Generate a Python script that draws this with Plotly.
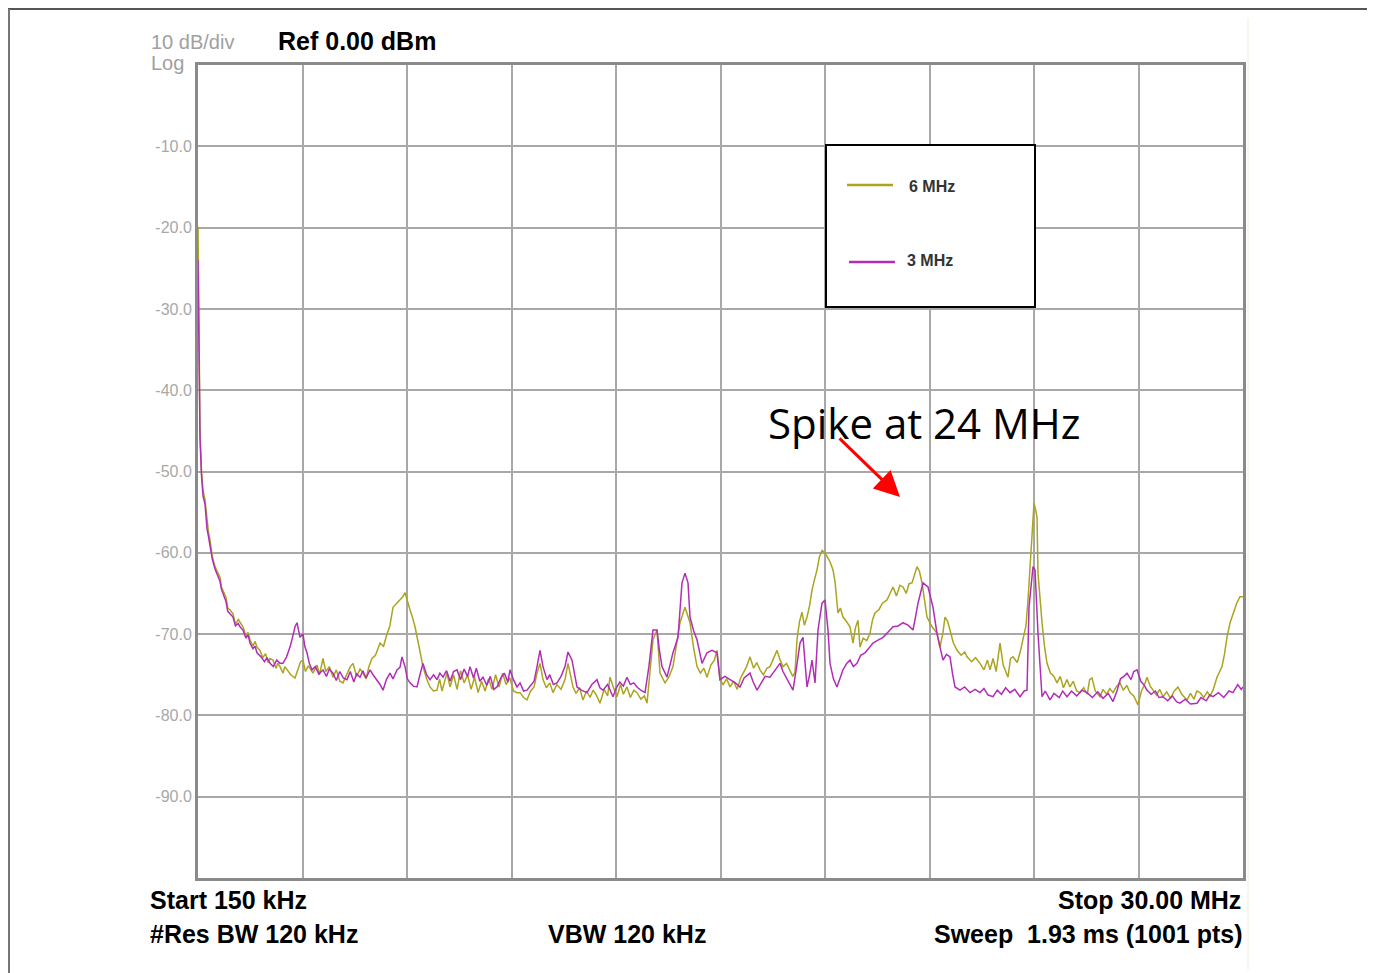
import plotly.graph_objects as go

# ---------------- data ----------------
freq_6mhz = [0.15, 0.18, 0.207, 0.25, 0.293, 0.35, 0.407, 0.45, 0.493, 0.56, 0.636, 0.70, 0.778, 0.82, 0.864,
             0.95, 1.0, 1.064, 1.15, 1.22, 1.3, 1.35, 1.435, 1.52, 1.58, 1.635, 1.72, 1.78, 1.835, 1.921,
             2.0, 2.08, 2.15, 2.207, 2.292, 2.38, 2.43, 2.492, 2.58, 2.63, 2.692, 2.8, 2.921, 3.0, 3.08,
             3.149, 3.22, 3.3, 3.435, 3.55, 3.62, 3.721, 3.8, 3.9, 4.006, 4.1, 4.2, 4.292, 4.4, 4.5, 4.578,
             4.68, 4.78, 4.863, 4.95, 5.03, 5.12, 5.22, 5.349, 5.45, 5.549, 5.63, 5.72, 5.82, 5.92, 6.0,
             6.063, 6.13, 6.206, 6.28, 6.349, 6.42, 6.491, 6.577, 6.68, 6.777, 6.877, 6.977, 7.05, 7.12,
             7.26, 7.35, 7.45, 7.55, 7.65, 7.75, 7.85, 7.95, 8.05, 8.15, 8.25, 8.35, 8.45, 8.55, 8.65, 8.75,
             8.85, 8.95, 9.06, 9.16, 9.262, 9.348, 9.45, 9.548, 9.65, 9.75, 9.834, 9.919, 10.005, 10.1,
             10.2, 10.29, 10.4, 10.52, 10.633, 10.719, 10.862, 10.95, 11.05, 11.147, 11.25, 11.35, 11.433,
             11.53, 11.633, 11.75, 11.85, 11.919, 12.02, 12.118, 12.22, 12.3, 12.404, 12.5, 12.6, 12.69,
             12.8, 12.9, 12.976, 13.06, 13.147, 13.261, 13.347, 13.49, 13.6, 13.718, 13.82, 13.918, 14.061,
             14.204, 14.3, 14.404, 14.5, 14.6, 14.69, 14.8, 14.9, 14.975, 15.061, 15.15, 15.25, 15.347,
             15.45, 15.55, 15.65, 15.718, 15.82, 15.918, 16.02, 16.11, 16.204, 16.3, 16.4, 16.489, 16.6,
             16.689, 16.78, 16.861, 16.96, 17.061, 17.14, 17.203, 17.26, 17.33, 17.403, 17.47, 17.546,
             17.62, 17.689, 17.76, 17.832, 17.9, 17.974, 18.06, 18.117, 18.203, 18.288, 18.345, 18.431,
             18.5, 18.574, 18.65, 18.774, 18.86, 18.93, 19.003, 19.06, 19.15, 19.25, 19.346, 19.42, 19.488,
             19.6, 19.7, 19.831, 19.92, 20.003, 20.1, 20.2, 20.288, 20.38, 20.46, 20.545, 20.688, 20.76,
             20.831, 20.9, 20.974, 21.117, 21.259, 21.345, 21.43, 21.488, 21.56, 21.631, 21.72, 21.831,
             21.95, 22.05, 22.117, 22.25, 22.36, 22.488, 22.6, 22.7, 22.774, 22.86, 22.95, 23.059, 23.15,
             23.288, 23.36, 23.43, 23.55, 23.63, 23.716, 23.8, 23.859, 23.92, 23.973, 24.03, 24.08, 24.116,
             24.144, 24.2, 24.259, 24.33, 24.402, 24.5, 24.6, 24.687, 24.78, 24.87, 24.97, 25.059, 25.15,
             25.25, 25.345, 25.45, 25.55, 25.62, 25.688, 25.78, 25.916, 26.0, 26.1, 26.2, 26.287, 26.39,
             26.487, 26.58, 26.68, 26.773, 26.88, 27.001, 27.1, 27.19, 27.258, 27.35, 27.429, 27.53, 27.62,
             27.715, 27.82, 27.93, 28.04, 28.143, 28.25, 28.4, 28.5, 28.6, 28.68, 28.772, 28.88, 28.98,
             29.06, 29.143, 29.257, 29.4, 29.47, 29.543, 29.63, 29.714, 29.82, 29.914, 30.0]
level_6mhz = [-19.9, -35.0, -44.9, -50.0, -52.3, -53.5, -56.0, -57.5, -58.4, -60.5, -61.7, -62.2, -63.0, -64.2,
              -64.6, -65.5, -66.8, -67.0, -67.5, -68.8, -68.2, -68.6, -69.1, -70.2, -69.8, -70.7, -71.5, -70.9,
              -71.6, -72.0, -72.9, -72.4, -73.5, -73.0, -73.2, -74.2, -73.6, -74.0, -74.8, -74.0, -74.4,
              -75.0, -75.4, -74.5, -73.4, -73.2, -74.6, -73.9, -74.8, -73.8, -75.0, -73.0, -74.6, -74.0,
              -75.3, -74.4, -75.8, -76.0, -75.0, -74.0, -73.6, -75.2, -74.3, -74.8, -75.5, -74.0, -73.0,
              -72.6, -71.1, -71.5, -70.0, -69.0, -66.7, -66.2, -65.8, -65.4, -64.9, -66.0, -67.0, -68.0,
              -69.1, -70.6, -72.0, -74.0, -75.5, -76.5, -77.0, -76.9, -75.5, -77.0, -74.8, -76.5, -75.0,
              -76.8, -74.5, -76.0, -75.0, -76.8, -75.3, -77.2, -75.8, -77.0, -75.5, -76.8, -75.0, -76.5,
              -74.8, -76.2, -75.4, -77.0, -77.2, -77.2, -77.8, -78.1, -77.0, -76.5, -74.8, -73.6, -75.6,
              -76.6, -76.0, -77.2, -76.2, -76.8, -75.6, -73.6, -76.5, -77.3, -76.6, -78.1, -77.0, -77.8,
              -76.9, -77.5, -78.5, -76.8, -77.6, -75.3, -76.6, -77.7, -76.2, -77.4, -76.5, -77.8, -76.9,
              -77.2, -78.0, -77.6, -78.5, -74.5, -70.7, -69.5, -74.8, -76.0, -75.3, -74.0, -71.0, -68.6,
              -66.7, -68.6, -71.5, -74.0, -74.8, -74.2, -75.3, -73.8, -73.2, -72.0, -75.6, -76.2, -75.5,
              -76.5, -75.8, -76.8, -75.4, -74.8, -74.0, -72.8, -74.2, -73.5, -74.4, -75.0, -74.2, -74.0,
              -73.0, -72.0, -73.2, -74.0, -73.6, -74.4, -75.2, -74.7, -70.7, -68.5, -67.3, -68.9, -67.9,
              -66.5, -64.6, -63.3, -62.1, -60.5, -59.7, -60.0, -60.5, -61.1, -62.1, -63.5, -67.4, -66.8,
              -67.9, -68.3, -69.1, -71.1, -69.2, -68.3, -71.6, -70.5, -70.8, -69.9, -68.2, -67.4, -67.0,
              -66.2, -65.8, -65.0, -64.2, -65.3, -64.0, -64.2, -65.0, -63.8, -63.7, -61.7, -62.3, -63.7,
              -65.5, -67.9, -69.1, -69.9, -71.6, -69.8, -67.9, -68.4, -69.5, -71.0, -72.0, -72.6, -72.2,
              -72.8, -73.4, -72.9, -73.6, -74.4, -73.2, -74.4, -73.0, -74.6, -71.1, -73.8, -75.3, -73.0,
              -72.8, -73.5, -72.3, -70.7, -69.0, -65.8, -61.5, -58.4, -53.9, -54.8, -55.6, -62.5, -66.0,
              -68.6, -71.5, -73.6, -74.8, -75.2, -76.0, -75.2, -76.6, -75.6, -76.5, -75.8, -77.0, -77.2,
              -76.6, -77.4, -75.6, -75.4, -77.0, -77.7, -76.8, -77.4, -76.7, -77.2, -76.4, -76.0, -76.9,
              -76.3, -77.2, -77.6, -78.7, -77.0, -76.2, -75.3, -76.4, -76.9, -77.5, -76.8, -77.7, -77.1,
              -77.9, -77.0, -76.5, -77.4, -78.1, -77.3, -78.0, -77.0, -77.2, -77.8, -77.1, -77.6, -76.9,
              -75.3, -74.0, -72.5, -70.4, -68.6, -67.4, -66.2, -65.4, -65.4]

freq_3mhz = [0.15, 0.18, 0.207, 0.25, 0.293, 0.35, 0.407, 0.45, 0.493, 0.56, 0.636, 0.7, 0.778, 0.82, 0.864,
             0.95, 1.0, 1.064, 1.15, 1.22, 1.3, 1.35, 1.435, 1.52, 1.58, 1.635, 1.72, 1.78, 1.835, 1.95,
             2.05, 2.12, 2.207, 2.3, 2.4, 2.492, 2.578, 2.68, 2.778, 2.85, 2.921, 2.978, 3.064, 3.149, 3.2,
             3.264, 3.33, 3.406, 3.5, 3.6, 3.721, 3.82, 3.9, 4.006, 4.1, 4.2, 4.3, 4.406, 4.5, 4.6, 4.68,
             4.777, 4.86, 4.95, 5.063, 5.15, 5.263, 5.35, 5.435, 5.53, 5.634, 5.72, 5.834, 5.92, 5.977,
             6.063, 6.13, 6.206, 6.3, 6.406, 6.49, 6.577, 6.68, 6.777, 6.88, 6.977, 7.06, 7.149, 7.25,
             7.35, 7.45, 7.548, 7.65, 7.75, 7.85, 7.92, 8.02, 8.1, 8.2, 8.291, 8.4, 8.5, 8.6, 8.691, 8.8,
             8.9, 9.0, 9.062, 9.16, 9.262, 9.35, 9.45, 9.548, 9.65, 9.75, 9.834, 9.919, 10.005, 10.119,
             10.2, 10.3, 10.405, 10.52, 10.633, 10.719, 10.833, 10.976, 11.1, 11.262, 11.4, 11.547, 11.63,
             11.719, 11.85, 12.004, 12.1, 12.2, 12.3, 12.404, 12.5, 12.6, 12.69, 12.8, 12.918, 13.03,
             13.147, 13.261, 13.33, 13.404, 13.547, 13.63, 13.718, 13.861, 13.92, 13.975, 14.061, 14.147,
             14.204, 14.3, 14.404, 14.547, 14.69, 14.832, 14.975, 15.061, 15.2, 15.347, 15.5, 15.632,
             15.75, 15.918, 16.0, 16.118, 16.25, 16.35, 16.489, 16.6, 16.775, 16.86, 16.975, 17.06, 17.146,
             17.25, 17.346, 17.432, 17.49, 17.546, 17.62, 17.689, 17.775, 17.86, 17.974, 18.06, 18.146,
             18.203, 18.3, 18.402, 18.5, 18.574, 18.68, 18.774, 18.87, 18.974, 19.08, 19.203, 19.3, 19.431,
             19.55, 19.717, 19.85, 20.003, 20.15, 20.288, 20.43, 20.574, 20.65, 20.717, 20.86, 21.002,
             21.145, 21.259, 21.345, 21.431, 21.53, 21.631, 21.7, 21.774, 21.917, 22.05, 22.202, 22.35,
             22.488, 22.6, 22.72, 22.859, 22.98, 23.1, 23.22, 23.345, 23.48, 23.63, 23.75, 23.83, 23.887,
             24.002, 24.059, 24.144, 24.259, 24.35, 24.487, 24.6, 24.75, 24.85, 24.973, 25.1, 25.25, 25.4,
             25.545, 25.7, 25.85, 26.0, 26.15, 26.287, 26.4, 26.5, 26.6, 26.687, 26.8, 26.88, 26.973, 27.08,
             27.18, 27.258, 27.38, 27.5, 27.6, 27.715, 27.85, 27.98, 28.1, 28.2, 28.35, 28.5, 28.686, 28.8,
             28.95, 29.05, 29.143, 29.3, 29.45, 29.6, 29.714, 29.85, 29.95, 30.0]
level_3mhz = [-24.0, -38.0, -46.0, -50.5, -53.0, -54.0, -57.0, -58.0, -59.0, -60.8, -62.0, -62.8, -63.5, -64.5,
              -65.0, -66.0, -67.2, -67.5, -67.9, -69.0, -68.7, -69.1, -69.5, -70.5, -70.1, -71.1, -71.8, -71.5,
              -72.3, -72.8, -73.4, -72.9, -73.6, -74.0, -73.2, -73.6, -73.6, -72.8, -71.6, -70.4, -69.1,
              -68.6, -70.4, -70.0, -71.5, -72.3, -73.6, -74.4, -74.0, -74.9, -74.4, -75.2, -74.3, -74.8,
              -75.7, -74.6, -75.4, -75.6, -74.6, -75.9, -74.9, -75.3, -74.5, -75.4, -74.4, -75.0, -75.6,
              -76.2, -76.9, -75.6, -74.8, -75.5, -74.4, -74.1, -72.8, -74.0, -75.5, -76.0, -76.4, -76.5,
              -75.0, -73.6, -75.0, -75.6, -75.0, -75.6, -74.8, -75.3, -74.5, -75.8, -74.6, -74.4, -75.6,
              -74.3, -75.2, -74.0, -75.4, -74.2, -75.8, -75.3, -76.3, -75.2, -76.8, -76.5, -75.4, -74.8,
              -75.9, -74.4, -75.6, -76.5, -76.0, -77.0, -76.9, -76.4, -75.8, -74.0, -72.0, -74.0, -75.6,
              -75.0, -76.2, -76.0, -75.2, -74.0, -72.2, -73.2, -76.5, -76.9, -77.2, -76.2, -75.6, -76.6,
              -76.9, -76.2, -77.7, -76.6, -75.9, -76.4, -75.3, -76.2, -76.0, -76.5, -76.9, -77.2, -74.0,
              -69.5, -69.5, -72.0, -74.0, -75.3, -73.8, -72.3, -70.4, -67.0, -63.7, -62.5, -63.7, -67.9,
              -69.5, -70.7, -73.6, -72.3, -72.0, -72.3, -75.6, -75.2, -75.6, -76.0, -76.5, -75.4, -74.8,
              -75.8, -76.9, -76.0, -75.2, -75.3, -74.6, -73.6, -74.6, -75.6, -76.3, -76.9, -74.0, -71.1,
              -70.4, -73.5, -76.5, -75.0, -73.2, -76.0, -69.5, -66.2, -65.8, -69.5, -73.6, -75.5, -76.5,
              -75.3, -74.4, -73.6, -73.2, -74.0, -73.6, -72.6, -72.3, -71.8, -71.1, -70.8, -70.4, -69.8,
              -69.1, -69.0, -68.6, -68.9, -69.5, -67.8, -66.2, -63.7, -64.2, -66.7, -69.9, -71.6, -73.2,
              -72.5, -72.8, -74.8, -76.5, -76.9, -76.5, -77.2, -76.8, -77.2, -76.7, -77.5, -77.7, -76.9,
              -77.4, -76.6, -77.2, -76.8, -77.7, -77.0, -76.9, -66.7, -61.7, -62.1, -69.9, -77.7, -77.0,
              -78.1, -77.3, -77.8, -77.0, -77.7, -77.0, -77.6, -76.9, -77.2, -77.8, -77.1, -77.9, -77.3,
              -78.3, -77.0, -75.5, -75.2, -74.8, -75.6, -74.6, -74.4, -75.8, -76.3, -76.9, -77.4, -77.0,
              -77.8, -77.7, -78.2, -77.6, -78.3, -78.5, -78.0, -78.6, -78.5, -77.8, -78.2, -77.5, -77.7,
              -77.2, -77.8, -77.0, -77.2, -76.2, -76.8, -76.5]

y_tick_vals = [-10, -20, -30, -40, -50, -60, -70, -80, -90]
y_tick_text = ["-10.0", "-20.0", "-30.0", "-40.0", "-50.0", "-60.0", "-70.0", "-80.0", "-90.0"]
x_start, x_stop = 0.15, 30.0
x_grid = [x_start + k * (x_stop - x_start) / 10 for k in range(11)]

series_names = ["6 MHz", "3 MHz"]
col_6 = "#aaa420"
col_3 = "#b22db6"

# ---------------- figure ----------------
OFF = 8                      # page body margin
W, H = 1375 - OFF, 973 - OFF
PL, PR, PT, PB = 198, 1243, 65, 878   # plot area in page pixels
L, T = PL - OFF, PT - OFF
R, B = 1375 - PR, 973 - PB
pw, ph = PR - PL, PB - PT

def px(x):
    return (x - PL) / pw

def py(y):
    return (PB - y) / ph

fig = go.Figure()
fig.add_trace(go.Scatter(x=freq_6mhz, y=level_6mhz, mode="lines", name=series_names[0],
                         line=dict(color=col_6, width=1.5), showlegend=False))
fig.add_trace(go.Scatter(x=freq_3mhz, y=level_3mhz, mode="lines", name=series_names[1],
                         line=dict(color=col_3, width=1.5), showlegend=False))

fig.update_layout(
    width=W, height=H,
    margin=dict(l=L, r=R, t=T, b=B, pad=0),
    paper_bgcolor="white", plot_bgcolor="white",
    font=dict(family="Liberation Sans Narrow, Liberation Sans, Arial", color="black"),
    xaxis=dict(range=[x_start, x_stop], tickvals=x_grid, showticklabels=False, ticks="",
               showgrid=True, gridcolor="#a8a8a8", gridwidth=1.5, zeroline=False,
               showline=True, mirror=True, linecolor="#8a8a8a", linewidth=3),
    yaxis=dict(range=[-100, 0], tickvals=y_tick_vals, ticktext=y_tick_text, ticks="",
               tickfont=dict(family="Liberation Sans Narrow, Liberation Sans, Arial", size=16, color="#a8a8a8"),
               showgrid=True, gridcolor="#a8a8a8", gridwidth=1.5, zeroline=False,
               showline=True, mirror=True, linecolor="#8a8a8a", linewidth=3),
)

shapes = []
# outer page frame
shapes.append(dict(type="line", xref="paper", yref="paper", x0=px(8), x1=px(1368), y0=py(9), y1=py(9),
                   line=dict(color="#555555", width=2)))
shapes.append(dict(type="line", xref="paper", yref="paper", x0=px(9), x1=px(9), y0=py(9), y1=py(975),
                   line=dict(color="#777777", width=2)))
shapes.append(dict(type="line", xref="paper", yref="paper", x0=px(1368), x1=px(1368), y0=py(9), y1=py(975),
                   line=dict(color="#777777", width=2)))
shapes.append(dict(type="line", xref="paper", yref="paper", x0=px(1248), x1=px(1248), y0=py(18), y1=py(970),
                   line=dict(color="#eeeedd", width=1)))
# legend box
shapes.append(dict(type="rect", xref="paper", yref="paper", x0=px(826), x1=px(1035), y0=py(307), y1=py(145),
                   line=dict(color="black", width=2), fillcolor="white", layer="above"))
shapes.append(dict(type="line", xref="paper", yref="paper", x0=px(847), x1=px(893), y0=py(185), y1=py(185),
                   line=dict(color=col_6, width=2.5), layer="above"))
shapes.append(dict(type="line", xref="paper", yref="paper", x0=px(849), x1=px(895), y0=py(262), y1=py(262),
                   line=dict(color=col_3, width=2.5), layer="above"))
fig.update_layout(shapes=shapes)

ann = []
def text(x, y, s, size, color="black", bold=False, xanchor="left", family=None):
    ann.append(dict(xref="paper", yref="paper", x=px(x), y=py(y), text=("<b>%s</b>" % s) if bold else s,
                    showarrow=False, xanchor=xanchor, yanchor="middle",
                    font=dict(size=size, color=color,
                              family=family or "Liberation Sans Narrow, Liberation Sans, Arial")))

text(149, 42, "10 dB/div", 20, color="#a0a0a0")
text(149, 63, "Log", 20, color="#a0a0a0")
text(276, 41, "Ref 0.00 dBm", 25, bold=True)
text(148, 900, "Start 150 kHz", 25, bold=True)
text(148, 934, "#Res BW 120 kHz", 25, bold=True)
text(546, 934, "VBW 120 kHz", 25, bold=True)
text(1243, 900, "Stop 30.00 MHz", 25, bold=True, xanchor="right")
text(1244, 934, "Sweep&nbsp;&nbsp;1.93 ms (1001 pts)", 25, bold=True, xanchor="right")
text(907, 186, series_names[0], 16, color="#333333", bold=True, family="Liberation Sans Narrow, Liberation Sans")
text(905, 261, series_names[1], 16, color="#333333", bold=True, family="Liberation Sans Narrow, Liberation Sans")
text(766, 422, "Spike at 24 MHz", 42, family="Open Sans, Noto Sans")

# red arrow
ann.append(dict(xref="paper", yref="paper", x=px(900), y=py(497), ax=-62, ay=-60,
                axref="pixel", ayref="pixel", showarrow=True, arrowhead=2, arrowsize=1.7,
                arrowwidth=3, arrowcolor="#ff0000", text=""))
fig.update_layout(annotations=ann)

fig.write_html("out.html")
